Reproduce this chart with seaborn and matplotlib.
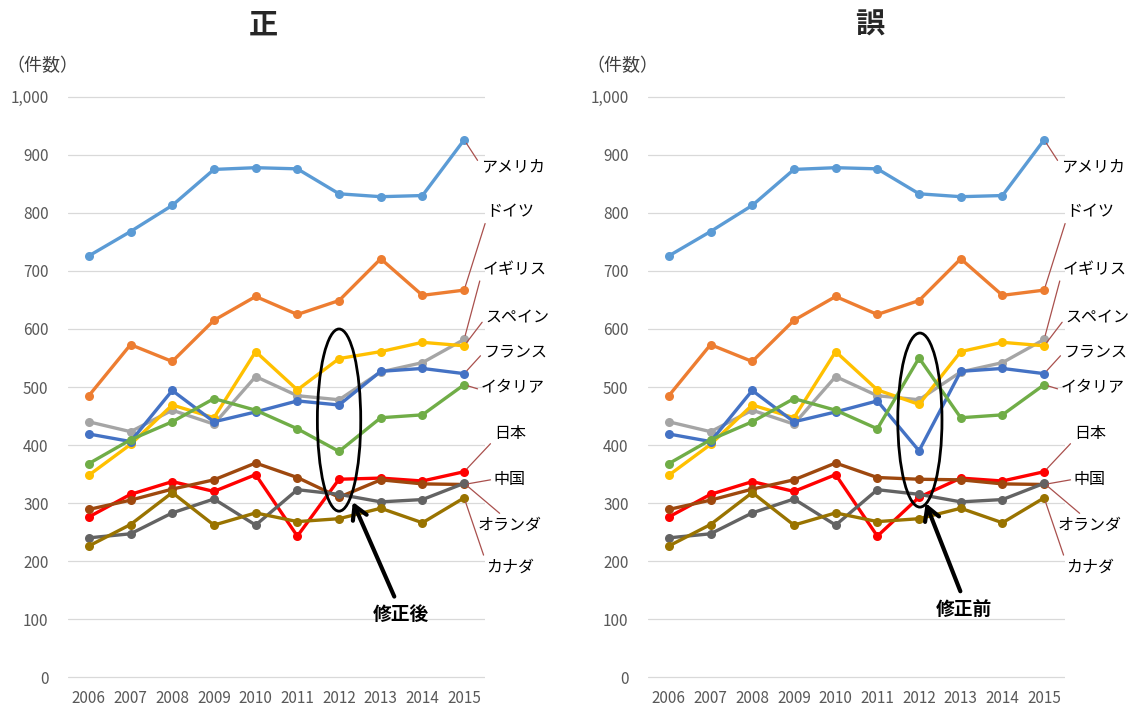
import pandas as pd
import seaborn as sns
import matplotlib.pyplot as plt
from matplotlib.patches import Ellipse

# counts per country, 2006-2015
years = [2006, 2007, 2008, 2009, 2010, 2011, 2012, 2013, 2014, 2015]
countries = ['アメリカ', 'ドイツ', 'イギリス', 'スペイン', 'フランス',
             'イタリア', '日本', '中国', 'オランダ', 'カナダ']

usa = [726, 768, 813, 875, 878, 876, 833, 828, 830, 926]
germany = [485, 573, 544, 615, 656, 625, 649, 721, 658, 667]
uk = [440, 423, 460, 436, 518, 485, 478, 526, 542, 582]
spain = [348, 401, 469, 447, 561, 495, 549, 561, 577, 571]
france = [419, 406, 494, 440, 457, 476, 469, 527, 532, 523]
italy = [368, 409, 440, 480, 460, 428, 389, 447, 452, 504]
japan = [276, 315, 337, 320, 349, 243, 341, 343, 338, 354]
china = [289, 305, 324, 340, 369, 344, 310, 340, 333, 332]
netherlands = [240, 247, 283, 307, 262, 323, 315, 302, 306, 334]
canada = [226, 263, 318, 262, 283, 268, 273, 291, 266, 309]

# the "wrong" version: 2012 values mixed up
spain_wrong = [348, 401, 469, 447, 561, 495, 470, 561, 577, 571]
france_wrong = [419, 406, 494, 440, 457, 476, 390, 527, 532, 523]
italy_wrong = [368, 409, 440, 480, 460, 428, 550, 447, 452, 504]
japan_wrong = [276, 315, 337, 320, 349, 243, 310, 343, 338, 354]
china_wrong = [289, 305, 324, 340, 369, 344, 341, 340, 333, 332]

colors = ['#5B9BD5', '#ED7D31', '#A5A5A5', '#FFC000', '#4472C4',
          '#70AD47', '#FF0000', '#9E480E', '#636363', '#997300']

# where the country names sit (right of the last point)
label_x = [2015.40, 2015.54, 2015.45, 2015.51, 2015.47, 2015.40, 2015.71, 2015.71, 2015.33, 2015.52]
label_y = [879, 802, 703, 619, 560, 498, 420, 341, 262, 190]
label_rel = [(0, 0.6), (0, 0.1), (0, 0.5), (0, 0.5), (0, 0.5),
             (0, 0.4), (0, 0.1), (0, 0.5), (0.4, 1), (0, 0.8)]

sns.set_theme(style="white")
plt.rcParams['font.family'] = ['Noto Sans CJK JP', 'DejaVu Sans']

right_set = [usa, germany, uk, spain, france, italy, japan, china, netherlands, canada]
wrong_set = [usa, germany, uk, spain_wrong, france_wrong, italy_wrong,
             japan_wrong, china_wrong, netherlands, canada]


def tidy(series):
    rows = []
    for name, vals in zip(countries, series):
        for y, v in zip(years, vals):
            rows.append({'year': y, 'country': name, 'value': v})
    return pd.DataFrame(rows)


fig = plt.figure(figsize=(11.3, 7.06), dpi=100)
ax1 = fig.add_axes([68 / 1130, 1 - 680 / 706, 417 / 1130, 586 / 706])
ax2 = fig.add_axes([648 / 1130, 1 - 680 / 706, 417 / 1130, 586 / 706])

panels = [
    (ax1, right_set, '正', 263, '修正後', (2012.33, 302), (2013.48, 108), (2012.0, 443, 1.04, 314), 0.45),
    (ax2, wrong_set, '誤', 870, '修正前', (2012.16, 300), (2013.07, 117), (2012.02, 443, 1.06, 300), 0.5),
]

for ax, series, title, tx, note, tip, note_xy, ell, rp in panels:
    df = tidy(series)
    sns.lineplot(data=df, x='year', y='value', hue='country', hue_order=countries,
                 palette=dict(zip(countries, colors)), marker='o', markersize=6.5,
                 markeredgewidth=0, linewidth=2.4, sort=False, legend=False, ax=ax)
    ax.set_xlim(2005.5, 2015.5)
    ax.set_ylim(-5, 1005)
    ax.set_xticks(years)
    ax.set_xticklabels([str(y) for y in years])
    ax.set_yticks(range(0, 1001, 100))
    ax.set_yticklabels([f'{v:,}' for v in range(0, 1001, 100)])
    ax.tick_params(axis='x', length=0, pad=7, labelsize=11, labelcolor='#595959')
    ax.tick_params(axis='y', length=0, pad=14, labelsize=11, labelcolor='#595959')
    ax.grid(axis='y', color='#D9D9D9', linewidth=0.9)
    ax.set_axisbelow(True)
    for s in ax.spines.values():
        s.set_visible(False)
    ax.set_xlabel('')
    ax.set_ylabel('')

    # country labels with leader lines
    for i, name in enumerate(countries):
        ax.annotate(name, xy=(years[-1], series[i][-1]), xytext=(label_x[i], label_y[i]),
                    ha='left', va='center', fontsize=11.5, color='black',
                    annotation_clip=False,
                    arrowprops=dict(arrowstyle='-', color='#A9504D', lw=0.9,
                                    relpos=label_rel[i], shrinkA=0, shrinkB=3))

    # ellipse around 2012 and arrow with note
    ax.add_patch(Ellipse((ell[0], ell[1]), width=ell[2], height=ell[3], fill=False,
                         edgecolor='black', linewidth=2, clip_on=False, zorder=5))
    ax.annotate(note, xy=tip, xytext=note_xy, ha='center', va='center',
                fontsize=13.5, fontweight='bold', color='black', zorder=6,
                arrowprops=dict(arrowstyle='->,head_length=0.7,head_width=0.4',
                                lw=3, color='black', relpos=(rp, 1), shrinkA=4, shrinkB=0))

    fig.text(tx / 1130, 1 - 25 / 706, title, ha='center', va='center',
             fontsize=21, fontweight='bold')

fig.text(6 / 1130, 1 - 66 / 706, '（件数）', ha='left', va='center', fontsize=13, color='#404040')
fig.text(586 / 1130, 1 - 66 / 706, '（件数）', ha='left', va='center', fontsize=13, color='#404040')

fig.savefig('out.png', dpi=100)
